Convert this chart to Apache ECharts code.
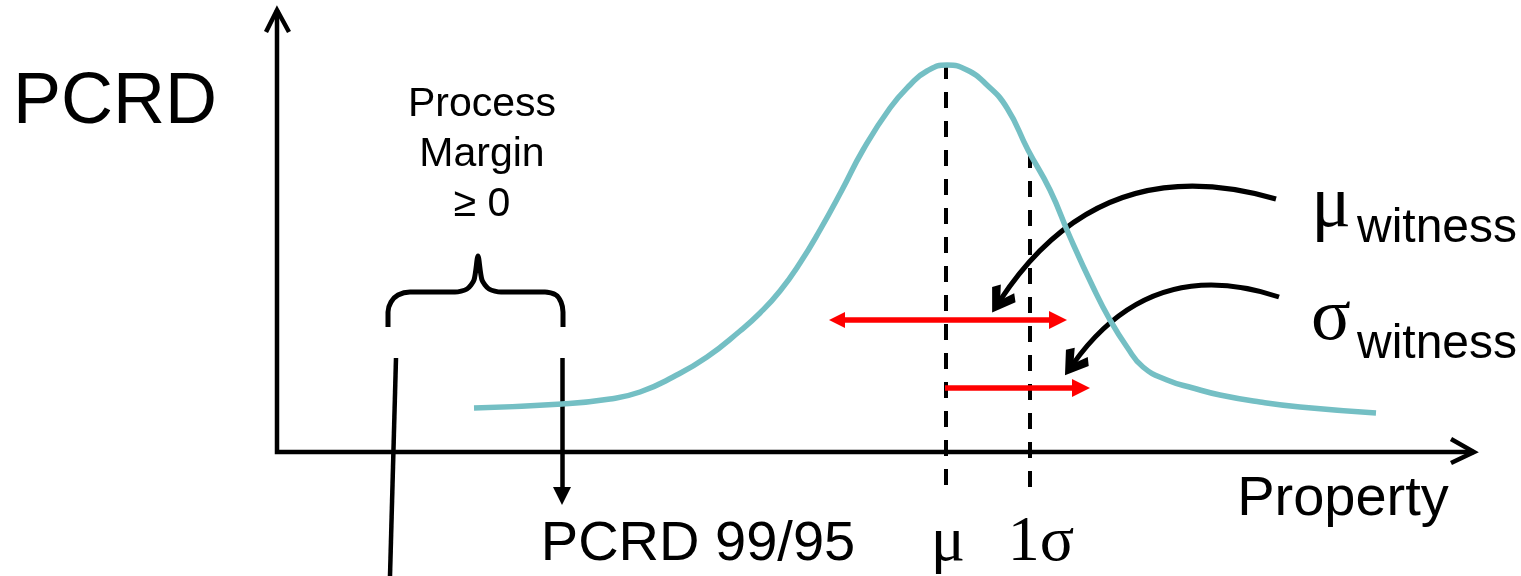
<!DOCTYPE html>
<html><head><meta charset="utf-8">
<script src="https://cdn.jsdelivr.net/npm/echarts@6/dist/echarts.min.js"></script>
<style>html,body{margin:0;padding:0;background:#fff}#c{width:1521px;height:576px}</style>
</head><body><div id="c"></div>
<script>
// ---- schematic data (Property on x, PCRD on y; origin at axes corner) ----
const curveProperty = [19.7, 28.5, 33.3, 36.3, 39.6, 43.0, 46.3, 48.3, 50.3, 52.3, 54.3, 56.5, 58.6, 61.3, 63.3, 65.0, 67.0, 69.0, 71.0, 73.0, 75.1, 77.3, 79.3, 81.6, 83.3, 85.0, 86.6, 89.0, 91.6, 94.3, 98.3, 102.3, 109.9];
const curvePCRD     = [4.4, 4.8, 5.3, 6.0, 7.5, 9.5, 12.1, 13.9, 16.1, 18.9, 22.2, 26.2, 30.2, 34.4, 36.7, 38.1, 38.7, 38.2, 36.7, 34.4, 30.2, 26.2, 21.5, 16.5, 13.2, 10.5, 8.5, 7.2, 6.4, 5.7, 5.0, 4.5, 3.9];

const axisEndProperty = 119.7;   // x-axis arrow tip
const axisEndPCRD = 44.2;        // y-axis arrow tip

const meanProperty = 66.9, meanTop = 38.9;
const sigmaProperty = 75.3, sigmaTop = 30.0;
const markerBottom = -3.8;

const witnessMeanRange = [55.1, 79.0], witnessMeanLevel = 13.2;
const witnessSigmaRange = [66.8, 81.3], witnessSigmaLevel = 6.4;

const muPointer = [[99.9, 25.3], [71.7, 14.2]];
const sigmaPointer = [[100.2, 15.5], [79.0, 7.9]];

const braceProperty = [11.1, 11.1, 11.4, 12.1, 13.3, 17.8, 19.0, 19.7, 20.1, 20.5, 21.2, 22.4, 26.8, 27.9, 28.4, 28.6, 28.6];
const bracePCRD     = [12.5, 14.0, 15.0, 15.7, 16.0, 16.0, 16.3, 17.2, 19.6, 17.2, 16.3, 16.0, 16.0, 15.7, 15.0, 14.0, 12.5];

const marginLeftLine = [[11.9, 9.4], [11.3, -12.4]];
const pcrdLine = [[28.5, 9.4], [28.5, -5.3]];

const labelTexts    = ['PCRD', 'Process\nMargin\n≥ 0', 'PCRD 99/95', 'Property', 'witness', 'witness', 'μ', '1σ', 'μ', 'σ'];
const labelProperty = [-16.2, 20.5, 42.1, 106.6, 116.0, 116.0, 67.1, 76.4, 105.4, 105.4];
const labelPCRD     = [34.9, 29.7, -9.3, -4.8, 22.3, 10.7, -9.1, -9.1, 24.5, 13.2];

// ---- styles ----
const labelStyles = [
  {fontSize: 72, fontFamily: 'Liberation Sans'},
  {fontSize: 41, fontFamily: 'Liberation Sans', lineHeight: 50},
  {fontSize: 56, fontFamily: 'Liberation Sans'},
  {fontSize: 56, fontFamily: 'Liberation Sans'},
  {fontSize: 48, fontFamily: 'Liberation Sans'},
  {fontSize: 48, fontFamily: 'Liberation Sans'},
  {fontSize: 64, fontFamily: 'Liberation Serif'},
  {fontSize: 64, fontFamily: 'Liberation Serif'},
  {fontSize: 74, fontFamily: 'Liberation Serif'},
  {fontSize: 74, fontFamily: 'Liberation Serif'}
];
const PX = 10; // pixels per data unit (both axes)
// pull an endpoint back so the arrow tip lands on the target
function pullBack(from, to, len) {
  const dx = to[0] - from[0], dy = to[1] - from[1];
  const d = Math.hypot(dx, dy);
  const k = (len / PX) / d;
  return [to[0] - dx * k, to[1] - dy * k];
}
function pullBackCurved(from, to, curveness, len) {
  const p1 = [from[0] * PX, -from[1] * PX], p2 = [to[0] * PX, -to[1] * PX];
  const cp = [(p1[0] + p2[0]) / 2 - (p1[1] - p2[1]) * curveness, (p1[1] + p2[1]) / 2 - (p2[0] - p1[0]) * curveness];
  return pullBack([cp[0] / PX, -cp[1] / PX], to, len);
}

const chart = echarts.init(document.getElementById('c'), null, {renderer: 'canvas'});
const black = '#000000';
const teal = '#74bfc4';
const red = '#ff0000';
const arrowLen = 18;
const pointerHead = 'path://M0,0 L14,19 L8,25 L0,13 L-8,25 L-14,19 Z';
const curv = -0.37;

const option = {
  animation: false,
  backgroundColor: '#fff',
  grid: {left: 0, right: 0, top: 0, bottom: 0},
  xAxis: {type: 'value', min: -27.7, max: 124.4, show: false},
  yAxis: {type: 'value', min: -12.4, max: 45.2, show: false},
  series: [
    // axes
    {type: 'lines', coordinateSystem: 'cartesian2d', polyline: true, silent: true,
      lineStyle: {color: black, width: 4.5, opacity: 1, join: 'miter'},
      data: [
        {coords: [[0, axisEndPCRD], [0, 0], [axisEndProperty, 0]]},
        {coords: [[-1.1, axisEndPCRD - 2.2], [0, axisEndPCRD], [1.2, axisEndPCRD - 2.2]]},
        {coords: [[axisEndProperty - 2.3, 1.3], [axisEndProperty, 0], [axisEndProperty - 2.3, -1.1]]}
      ]},
    // distribution curve
    {type: 'line', smooth: 0.5, showSymbol: false, silent: true,
      lineStyle: {color: teal, width: 5.5},
      data: curveProperty.map((x, i) => [x, curvePCRD[i]])},
    // mu and 1 sigma dashed lines
    {type: 'lines', coordinateSystem: 'cartesian2d', silent: true,
      lineStyle: {color: black, width: 4, type: [16, 13], opacity: 1},
      data: [
        {coords: [[meanProperty, meanTop], [meanProperty, markerBottom]]},
        {coords: [[sigmaProperty, sigmaTop], [sigmaProperty, markerBottom]]}
      ]},
    // red witness arrows
    {type: 'lines', coordinateSystem: 'cartesian2d', silent: true,
      symbol: ['triangle', 'triangle'], symbolSize: [16, arrowLen],
      lineStyle: {color: red, width: 5.5, opacity: 1},
      data: [
        {coords: [pullBack([witnessMeanRange[1], witnessMeanLevel], [witnessMeanRange[0], witnessMeanLevel], arrowLen / 2),
                  pullBack([witnessMeanRange[0], witnessMeanLevel], [witnessMeanRange[1], witnessMeanLevel], arrowLen / 2)]}
      ]},
    {type: 'lines', coordinateSystem: 'cartesian2d', silent: true,
      symbol: ['none', 'triangle'], symbolSize: [16, arrowLen],
      lineStyle: {color: red, width: 5.5, opacity: 1},
      data: [
        {coords: [[witnessSigmaRange[0], witnessSigmaLevel],
                  pullBack([witnessSigmaRange[0], witnessSigmaLevel], [witnessSigmaRange[1], witnessSigmaLevel], arrowLen / 2)]}
      ]},
    // black curved pointers
    {type: 'lines', coordinateSystem: 'cartesian2d', silent: true,
      symbol: ['none', pointerHead], symbolSize: [30, 28],
      itemStyle: {color: black},
      lineStyle: {color: black, width: 5, opacity: 1, curveness: curv},
      data: [
        {coords: [muPointer[0], pullBackCurved(muPointer[0], muPointer[1], curv, 11)]},
        {coords: [sigmaPointer[0], pullBackCurved(sigmaPointer[0], sigmaPointer[1], curv, 11)]}
      ]},
    // brace
    {type: 'line', smooth: 0.25, showSymbol: false, silent: true,
      lineStyle: {color: black, width: 5},
      data: braceProperty.map((x, i) => [x, bracePCRD[i]])},
    // margin lines
    {type: 'lines', coordinateSystem: 'cartesian2d', silent: true,
      lineStyle: {color: black, width: 4.5, opacity: 1},
      data: [{coords: marginLeftLine}]},
    {type: 'lines', coordinateSystem: 'cartesian2d', silent: true,
      symbol: ['none', 'triangle'], symbolSize: [18, 18],
      lineStyle: {color: black, width: 4.5, opacity: 1},
      data: [{coords: [pcrdLine[0], pullBack(pcrdLine[0], pcrdLine[1], 9)]}]},
    // labels
    {type: 'scatter', symbolSize: 0, silent: true,
      itemStyle: {opacity: 1, color: black},
      label: {show: true, color: black, opacity: 1},
      data: labelTexts.map((t, i) => ({
        value: [labelProperty[i], labelPCRD[i]],
        name: t,
        label: Object.assign({show: true, position: 'inside', formatter: t, color: black, opacity: 1,
          align: 'center', verticalAlign: 'middle'}, labelStyles[i])
      }))}
  ]
};
chart.setOption(option);
</script></body></html>
